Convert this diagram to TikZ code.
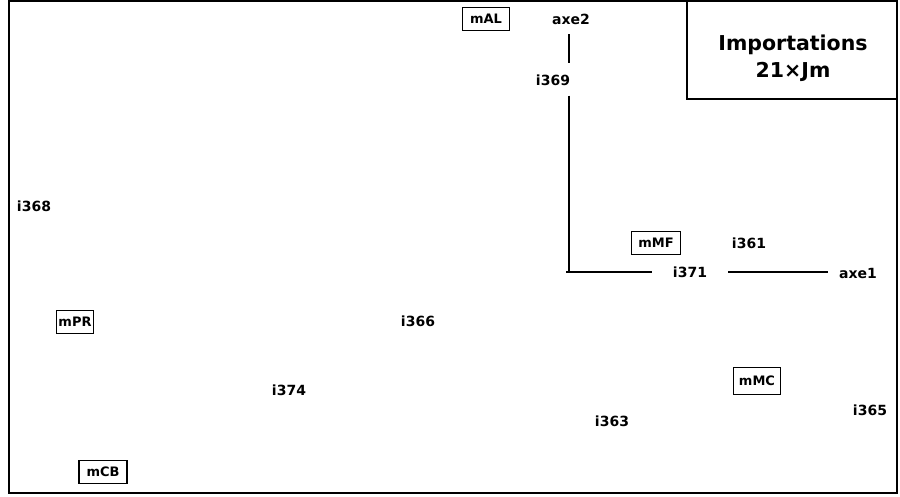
\documentclass[tikz,border=0pt]{standalone}
\usepackage{fontspec}
\setmainfont{DejaVu Sans}
\usetikzlibrary{positioning}

\begin{document}
\begin{tikzpicture}[
    x=1pt, y=-1pt,
    font=\bfseries\fontsize{14}{16}\selectfont,
    % Styles
    label/.style={inner sep=1pt},
    modbox/.style={
        draw, line width=1.6pt, inner sep=2pt,
        font=\bfseries\fontsize{13}{14}\selectfont,
        minimum width=46pt, minimum height=23pt
    },
    axisline/.style={line width=1.2pt}
]
    \useasboundingbox (0,0) rectangle (900,496);

    % --- Frame and title ---
    \draw[line width=1.5pt] (9,1) rectangle (897,493);
    \draw[line width=1.5pt] (687,1) rectangle (897,99);
    \node[align=center, font=\bfseries\fontsize{20.5}{27}\selectfont]
          (title) at (793,58) {Importations\\21×Jm};

    % --- Axes ---
    \coordinate (orig) at (569,272);
    \node[label] (axe2) at (571,19) {axe2};
    \node[label] (i369) at (553,80) {i369};
    \node[label] (i371) at (690,272) {i371};
    \node[label] (axe1) at (858,273) {axe1};

    % --- Individuals ---
    \node[label] (i361) at (749,243) {i361};
    \node[label] (i368) at (34,206) {i368};
    \node[label] (i366) at (418,321) {i366};
    \node[label] (i374) at (289,390) {i374};
    \node[label] (i363) at (612,421) {i363};
    \node[label] (i365) at (870,410) {i365};

    % --- Modalities ---
    \node[modbox, minimum width=47pt] (mAL) at (486,19) {mAL};
    \node[modbox, minimum width=49pt] (mMF) at (656,243) {mMF};
    \node[modbox, minimum width=36pt] (mPR) at (75,322) {mPR};
    \node[modbox, minimum width=48pt] (mCB) at (103,472) {mCB};
    \node[modbox, minimum width=47pt, minimum height=27pt] (mMC) at (757,381) {mMC};

    % --- Connections ---
    \draw[axisline] ([yshift=-9pt]orig |- axe2.south) -- ([yshift=10pt]orig |- i369.north);
    \draw[axisline] ([yshift=-9pt]orig |- i369.south) -- (orig);
    \draw[axisline] ([xshift=-3pt]orig) -- ([xshift=-20pt]i371.west);
    \draw[axisline] ([xshift=20pt]i371.east) -- ([xshift=-10pt]axe1.west |- orig);

\end{tikzpicture}
\end{document}
